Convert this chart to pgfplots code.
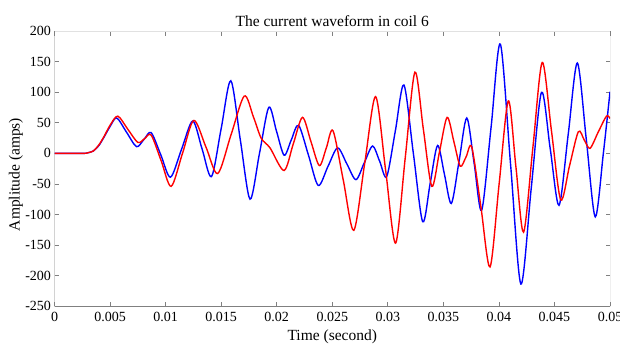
\documentclass[border=0pt]{standalone}
\usepackage{pgfplots}
\pgfplotsset{compat=1.18}
\usepackage{fontspec}
\setmainfont{Liberation Serif}
\definecolor{axgray}{RGB}{128,128,128}
\definecolor{axlight}{RGB}{225,225,225}
\begin{document}
\begin{tikzpicture}[x=1bp,y=1bp]
\path[use as bounding box] (0,0) rectangle (620,343);
\begin{axis}[
  at={(54.5bp,37bp)}, anchor=south west,
  scale only axis, width=555.5bp, height=274.7bp,
  xmin=0, xmax=0.05, ymin=-250, ymax=200,
  separate axis lines,
  axis line style={draw=none},
  scaled x ticks=false, scaled y ticks=false,
  xtick={0,0.005,0.01,0.015,0.02,0.025,0.03,0.035,0.04,0.045,0.05},
  xticklabels={0,0.005,0.01,0.015,0.02,0.025,0.03,0.035,0.04,0.045,0.05},
  ytick={-250,-200,-150,-100,-50,0,50,100,150,200},
  yticklabels={-250,-200,-150,-100,-50,0,50,100,150,200},
  tick align=inside,
  major tick length=4.5bp,
  every tick/.style={axgray, line width=0.8bp},
  ticklabel style={font=\fontsize{14bp}{16bp}\selectfont, text=black},
  xticklabel style={yshift=-3bp},
  clip=true,
]
\addplot[blue, line width=1.4bp, smooth] coordinates {
(0,0) (0.0025,0) (0.003,1) (0.0035,4) (0.004,13) (0.0045,28) (0.005,44) (0.0056,58)
(0.00649,34.5) (0.00738,11) (0.00804,22.5) (0.0087,34) (0.00957,-2.5) (0.01044,-39)
(0.01144,7) (0.01244,53) (0.01328,7.5) (0.01413,-38) (0.01500,40.5) (0.01587,119)
(0.01673,21.5) (0.0176,-75) (0.01845,0) (0.01929,75.5) (0.01998,36.5) (0.02067,-3)
(0.02131,22) (0.02197,46) (0.02286,-3) (0.02374,-52.5) (0.02461,-21.5) (0.02548,9)
(0.02631,-17) (0.02713,-43) (0.02788,-15.5) (0.02863,12) (0.02927,-13) (0.0299,-38)
(0.03068,37) (0.03145,112) (0.0323,0) (0.03314,-112) (0.03381,-49.5) (0.03448,13)
(0.0351,-34.5) (0.03572,-82) (0.03642,-12) (0.03711,58) (0.03778,-17.5) (0.03845,-93)
(0.0393,43.5) (0.04013,179) (0.04105,-18) (0.04198,-214) (0.04291,-57) (0.04383,100)
(0.04462,7.5) (0.04541,-85) (0.04624,31.5) (0.04706,148) (0.04787,22) (0.04867,-104)
(0.0494,0) (0.05,101)
};
\addplot[red, line width=1.4bp, smooth] coordinates {
(0,0) (0.0025,0) (0.003,1) (0.0035,4) (0.004,14) (0.0045,29) (0.005,46) (0.0057,61)
(0.0066,39.5) (0.0075,18) (0.0081,24) (0.0087,30) (0.0096,-12) (0.0105,-54)
(0.01152,0) (0.01254,54) (0.01363,10.5) (0.01469,-33) (0.01589,30.5) (0.01708,94)
(0.0179,60) (0.0186,25) (0.0194,9) (0.02066,-28) (0.02149,15.5) (0.02232,59)
(0.02308,19.5) (0.02384,-20) (0.02446,8.5) (0.02507,37) (0.026,-44.5) (0.02694,-126)
(0.02792,-16.5) (0.0289,93) (0.0298,-27) (0.0307,-147) (0.03157,-7) (0.03244,133)
(0.0332,39.5) (0.03396,-54) (0.03465,2.5) (0.03534,59) (0.03595,19) (0.03652,-21)
(0.03705,-5.5) (0.03756,10) (0.03838,-87.5) (0.0392,-186) (0.04002,-50) (0.04085,86)
(0.04153,-22) (0.04222,-129) (0.04306,10) (0.0439,149) (0.04473,37) (0.04556,-76)
(0.04636,-20) (0.04715,35.5) (0.04768,22) (0.0482,8.3) (0.04894,35) (0.04968,61)
(0.05,57)
};
\draw[axlight, line width=0.8bp] (rel axis cs:0,1) -- (rel axis cs:1,1);
\draw[axgray, line width=0.8bp] (rel axis cs:0,1) -- (rel axis cs:0,0) -- (rel axis cs:1,0) -- (rel axis cs:1,1);
\end{axis}
\node[anchor=base, font=\fontsize{15.5bp}{18bp}\selectfont] at (332.25,317) {The current waveform in coil 6};
\node[anchor=base, font=\fontsize{15.5bp}{18bp}\selectfont] at (332.25,2.7) {Time (second)};
\node[anchor=base, rotate=90, font=\fontsize{15.5bp}{18bp}\selectfont] at (19.7,168.5) {Amplitude (amps)};
\end{tikzpicture}
\end{document}
